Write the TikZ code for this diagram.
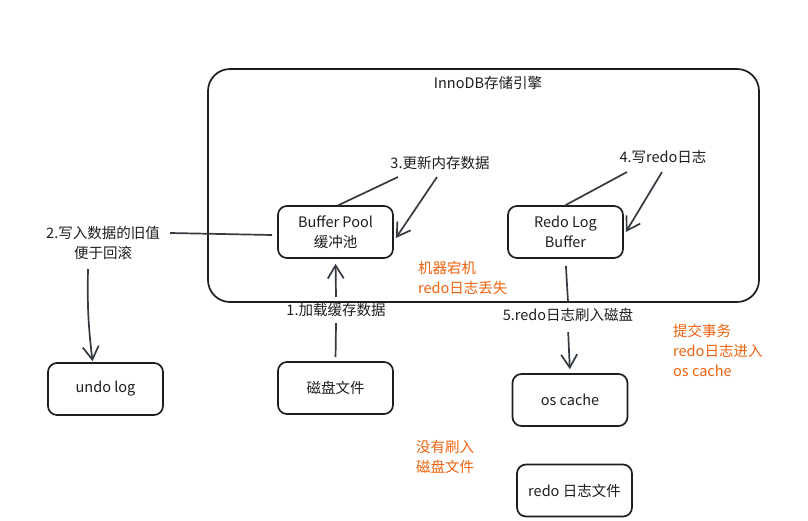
\documentclass[tikz,border=0pt]{standalone}
\usepackage{fontspec}
\setmainfont{Noto Sans CJK SC}
\usetikzlibrary{arrows.meta,calc}
\definecolor{ink}{HTML}{1E1E1E}
\definecolor{lineink}{HTML}{343A40}
\definecolor{orng}{HTML}{F0620E}
\begin{document}
\begin{tikzpicture}[x=1pt,y=-1pt,
  every node/.style={font=\fontsize{14.5}{20}\selectfont, text=ink},
  box/.style={draw=ink, line width=1.7pt, rounded corners=9pt, minimum width=115pt, minimum height=52pt, align=center, inner sep=2pt},
  lbl/.style={align=center, inner sep=1pt},
  note/.style={align=left, anchor=west, text=orng, inner sep=0pt},
  conn/.style={draw=lineink, line width=1.7pt},
  arr/.style={conn, -{Straight Barb[length=13pt,width=16pt,line width=1.7pt]}}
]
\useasboundingbox (0,0) rectangle (808,520);
\fill[white] (0,0) rectangle (808,520);

% engine container
\draw[ink, line width=1.7pt, rounded corners=22pt] (208,69) rectangle (759,302);
\node[lbl] (title) at (488,83) {InnoDB存储引擎};

% boxes
\node[box] (bp) at (335.5,232) {Buffer Pool\\缓冲池};
\node[box] (rlb) at (565.5,232) {Redo Log\\Buffer};
\node[box] (undo) at (105.5,389) {undo log};
\node[box] (disk) at (335.5,388) {磁盘文件};
\node[box] (osc) at (570,400) {os cache};
\node[box] (rfile) at (574.5,490.5) {redo 日志文件};

% labels
\node[lbl] (l3) at (440,163) {3.更新内存数据};
\node[lbl] (l4) at (663,157) {4.写redo日志};
\node[lbl] (l2) at (103,243) {2.写入数据的旧值\\便于回滚};
\node[lbl, minimum height=26pt] (l1) at (336,310) {1.加载缓存数据};
\node[lbl, minimum height=26pt] (l5) at (568,315) {5.redo日志刷入磁盘};

\node[note] (o1) at (418,278) {机器宕机\\redo日志丢失};
\node[note] (o2) at (673,350) {提交事务\\redo日志进入\\os cache};
\node[note] (o3) at (416,457) {没有刷入\\磁盘文件};

% connector end points at labels
\coordinate (c3a) at (398,177);
\coordinate (c3b) at (437,177);
\coordinate (c4a) at (627,172);
\coordinate (c4b) at (662,172);
\coordinate (c2a) at (170,233);
\coordinate (c2b) at (88,269);

% step 3 loop
\draw[conn] ([xshift=3pt]bp.north) -- (c3a);
\draw[arr] (c3b) -- ([xshift=2pt,yshift=-6pt]bp.east);
% step 4 loop
\draw[conn] (rlb.north) -- (c4a);
\draw[arr] (c4b) -- ([xshift=2pt]rlb.east);
% step 2
\draw[conn] (c2a) -- ([xshift=-5pt,yshift=-3pt]bp.west);
\draw[arr] (c2b) to[bend right=4] ([xshift=-13pt,yshift=1pt]undo.north);
% step 1
\draw[conn, shorten <=4pt] (disk.north) -- (l1.south);
\draw[arr, shorten >=5pt] (l1.north) -- (bp.south);
% step 5
\draw[conn, shorten <=7pt] (rlb.south) -- (l5.north);
\draw[arr, shorten <=4pt, shorten >=4pt] (l5.south) -- (osc.north);
\end{tikzpicture}
\end{document}
